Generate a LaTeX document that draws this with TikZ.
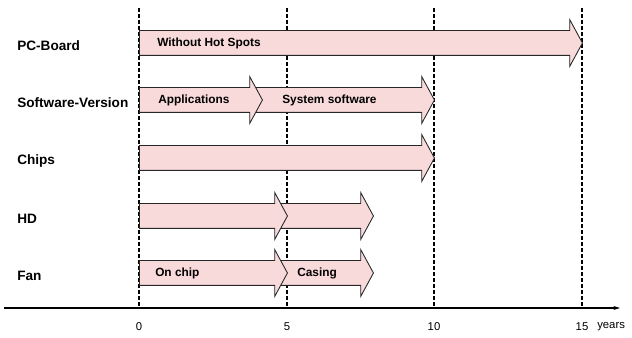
\documentclass[tikz,border=0pt]{standalone}
\usepackage{fontspec}
\setmainfont{Liberation Sans}
\usetikzlibrary{shapes.arrows,arrows.meta}
\definecolor{barpink}{RGB}{248,218,218}

\begin{document}
\begin{tikzpicture}[x=0.75pt,y=-0.75pt]
        %
        % `bar' is the pink time arrow, `rowlabel' the names on the left.
        % `inlabel' is used for the texts inside the arrows, `grid' for the year lines.
        \tikzstyle{bar} = [draw=black!85,fill=barpink,line width=0.65pt,single arrow,
            single arrow head extend=8.25pt,single arrow tip angle=123,
            inner xsep=0pt,inner ysep=9pt,anchor=tail]
        \tikzstyle{rowlabel} = [anchor=west,inner sep=0pt,font=\fontsize{10.2}{12}\selectfont\bfseries]
        \tikzstyle{inlabel} = [anchor=west,inner sep=0pt,font=\fontsize{8.9}{10}\selectfont\bfseries]
        \tikzstyle{grid} = [line width=0.9pt,dash pattern=on 3pt off 1.5pt]
        \tikzstyle{tick} = [inner sep=0pt,font=\fontsize{8.5}{10}\selectfont]
        %
        \useasboundingbox (0,0) rectangle (632,338);
        %
        % Axis
        \coordinate (axstart) at (4,308);
        \coordinate (axend) at (620,308);
        \draw[line width=0.8pt,-{Stealth[length=5pt,width=3pt]}] (axstart) -- (axend);
        \node[tick] (t0) at (139,327) {0};
        \node[tick] (t5) at (287,327) {5};
        \node[tick] (t10) at (434,327) {10};
        \node[tick] (t15) at (582,327) {15};
        \node[tick,anchor=west] (years) at (597,327) {years};
        %
        % Dashed year lines
        \coordinate (top0) at (139,8);
        \coordinate (top5) at (287,8);
        \coordinate (top10) at (434,8);
        \coordinate (top15) at (582,8);
        \coordinate (bot0) at (139,308);
        \coordinate (bot5) at (287,308);
        \coordinate (bot10) at (434,308);
        \coordinate (bot15) at (582,308);
        \draw[grid] (top0) -- (bot0);
        \draw[grid] (top5) -- (bot5);
        \draw[grid] (top10) -- (bot10);
        \draw[grid] (top15) -- (bot15);
        %
        % Row names
        \node[rowlabel] (pcboard) at (17,46) {PC-Board};
        \node[rowlabel] (software) at (17,103) {Software-Version};
        \node[rowlabel] (chips) at (17,161) {Chips};
        \node[rowlabel] (hd) at (17,219) {HD};
        \node[rowlabel] (fan) at (17,276) {Fan};
        %
        % PC-Board
        \node[bar,minimum height=332.25pt] (pcbar) at (139,43) {};
        \node[inlabel] (hotspots) at (157,43) {Without Hot Spots};
        %
        % Software-Version
        \node[bar,minimum height=134.25pt] (sysbar) at (255,100) {};
        \node[bar,minimum height=92.25pt] (appbar) at (139,100) {};
        \node[inlabel] (apps) at (158,100) {Applications};
        \node[inlabel] (system) at (282,100) {System software};
        %
        % Chips
        \node[bar,minimum height=221.25pt] (chipbar) at (139,158) {};
        %
        % HD
        \node[bar,minimum height=69.75pt] (hdbar2) at (280,216) {};
        \node[bar,minimum height=111pt] (hdbar1) at (139,216) {};
        %
        % Fan
        \node[bar,minimum height=69.75pt] (fanbar2) at (280,273) {};
        \node[bar,minimum height=111pt] (fanbar1) at (139,273) {};
        \node[inlabel] (onchip) at (155,273) {On chip};
        \node[inlabel] (casing) at (297,273) {Casing};
        %
\end{tikzpicture}
\end{document}
